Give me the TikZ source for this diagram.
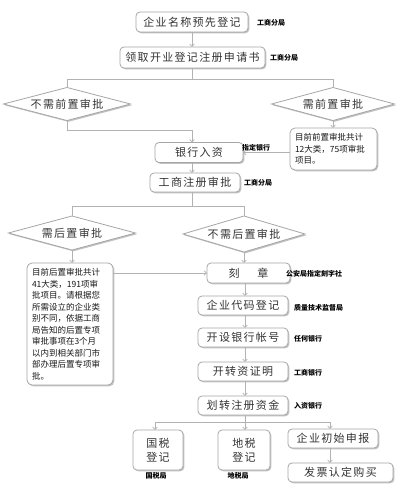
\documentclass[tikz,border=0pt]{standalone}
\usepackage{fontspec}
\newfontfamily\cjk[LetterSpace=12]{Noto Sans CJK SC}
\newfontfamily\cjkn{Noto Sans CJK SC}
\usetikzlibrary{shapes.geometric,shadows,arrows.meta}
\begin{document}
\begin{tikzpicture}[x=1pt,y=-1pt,
  every node/.style={inner sep=0pt,outer sep=0pt},
  shd/.style={drop shadow={shadow xshift=1.3pt,shadow yshift=-1.3pt,fill=gray!80,opacity=0.6}},
  box/.style={draw=gray!70,line width=0.8pt,fill=white,rounded corners=4pt,shd,
    font=\cjk\fontsize{11}{14}\selectfont,text=black!80,align=center},
  dia/.style={diamond,draw=gray!70,line width=0.8pt,fill=white,shd,aspect=3.8,
    font=\cjk\fontsize{11}{13}\selectfont,text=black!80},
  note/.style={draw=gray!70,line width=0.8pt,fill=white,rounded corners=5pt,shd,
    font=\cjkn\fontsize{8.5}{11.5}\selectfont,text=black!90,align=left,inner sep=5pt},
  lab/.style={font=\cjkn\bfseries\fontsize{7}{8}\selectfont,text=black},
  ln/.style={draw=gray!60,line width=0.8pt},
  arr/.style={ln,-{Straight Barb[length=2.5pt,width=4.5pt,line width=0.7pt]}}
]
\useasboundingbox[fill=white] (0,0) rectangle (404,495);

% main column nodes
\node[box,minimum width=112pt,minimum height=20pt] (n1) at (192,22) {企业名称预先登记};
\node[box,minimum width=145pt,minimum height=21pt] (n2) at (192.5,57.5) {领取开业登记注册申请书};
\node[dia,minimum width=127pt,minimum height=33pt] (d1) at (67,104) {不需前置审批};
\node[dia,minimum width=123pt,minimum height=33pt] (d2) at (333,104) {需前置审批};
\node[note,text width=77pt,minimum height=42pt] (b3) at (333.5,149) {目前前置审批共计\\12大类，75项审批\\项目。};
\node[box,minimum width=88pt,minimum height=20pt] (n4) at (199,152.5) {银行入资};
\node[box,minimum width=90pt,minimum height=19pt] (n5) at (195,182.5) {工商注册审批};
\node[dia,minimum width=127pt,minimum height=34pt] (d3) at (72,233) {需后置审批};
\node[dia,minimum width=122pt,minimum height=36pt] (d4) at (244,234) {不需后置审批};
\node[note,text width=76pt,minimum height=122pt] (b6) at (70,324) {目前后置审批共计\\41大类，191项审\\批项目。请根据您\\所需设立的企业类\\别不同，依据工商\\局告知的后置专项\\审批事项在3个月\\以内到相关部门市\\部办理后置专项审\\批。};
\node[box,minimum width=83pt,minimum height=20pt] (n7) at (248.5,273) {刻\hspace{18pt}章};
\node[box,minimum width=90pt,minimum height=19pt] (n8) at (243,305.5) {企业代码登记};
\node[box,minimum width=90pt,minimum height=19pt] (n9) at (243,337.5) {开设银行帐号};
\node[box,minimum width=90pt,minimum height=19pt] (n10) at (243,371.5) {开转资证明};
\node[box,minimum width=90pt,minimum height=19pt] (n11) at (243,405.5) {划转注册资金};
\node[box,minimum width=50pt,minimum height=40pt] (n12) at (158,450) {国税\\登记};
\node[box,minimum width=52pt,minimum height=40pt] (n13) at (244,450) {地税\\登记};
\node[box,minimum width=90pt,minimum height=19pt] (n14) at (333,438.5) {企业初始申报};
\node[box,minimum width=105pt,minimum height=19pt] (n15) at (340.5,472.5) {发票认定购买};

% labels
\node[lab,anchor=west] (l1) at (257,23) {工商分局};
\node[lab,anchor=west] (l2) at (270,58) {工商分局};
\node[lab] (l3) at (256,148) {指定银行};
\node[lab,anchor=west] (l4) at (244,183) {工商分局};
\node[lab,anchor=west] (l5) at (286,274) {公安局指定刻字社};
\node[lab,anchor=west] (l6) at (294,308) {质量技术监督局};
\node[lab,anchor=west] (l7) at (294,339) {任何银行};
\node[lab,anchor=west] (l8) at (294,373) {工商银行};
\node[lab,anchor=west] (l9) at (294,406) {入资银行};
\node[lab] (l10) at (156,476) {国税局};
\node[lab] (l11) at (238,476) {地税局};

% junction coordinates
\coordinate (c1) at (192,0);
\coordinate (j1) at (192,79);
\coordinate (j1l) at (67,79);
\coordinate (j1r) at (333,79);
\coordinate (j2) at (67,130);
\coordinate (j3) at (192,130);
\coordinate (j4) at (192,206);
\coordinate (j4l) at (72,206);
\coordinate (j4r) at (244,206);
\coordinate (c2) at (245,0);
\coordinate (j5) at (245,422);
\coordinate (j5l) at (155,422);
\coordinate (j5r) at (330,422);

% connectors
\draw[arr] (c1 |- n1.south) -- (c1 |- n2.north);
\draw[ln] (c1 |- n2.south) -- (j1);
\draw[ln] (j1l) -- (j1r);
\draw[ln] (j1l) -- (d1.north);
\draw[ln] (j1r) -- (d2.north);
\draw[ln] (d1.south) -- (j2) -- (j3);
\draw[arr] (j3) -- (j3 |- n4.north);
\draw[arr] (d2.south) -- (d2.south |- b3.north);
\draw[arr] (b3.west |- n4.east) -- (n4.east);
\draw[arr] (c1 |- n4.south) -- (c1 |- n5.north);
\draw[ln] (c1 |- n5.south) -- (j4);
\draw[ln] (j4l) -- (j4r);
\draw[ln] (j4l) -- (d3.north);
\draw[ln] (j4r) -- (d4.north);
\draw[arr] (d3.south) -- (d3.south |- b6.north);
\draw[arr] (d4.south) -- (d4.south |- n7.north);
\draw[arr] (b6.east |- n7.west) -- (n7.west);
\draw[arr] (c2 |- n7.south) -- (c2 |- n8.north);
\draw[arr] (c2 |- n8.south) -- (c2 |- n9.north);
\draw[arr] (c2 |- n9.south) -- (c2 |- n10.north);
\draw[arr] (c2 |- n10.south) -- (c2 |- n11.north);
\draw[ln] (c2 |- n11.south) -- (j5);
\draw[ln] (j5l) -- (j5r);
\draw[arr] (j5l) -- (j5l |- n12.north);
\draw[arr] (j5) -- (j5 |- n13.north);
\draw[arr] (j5r) -- (j5r |- n14.north);
\draw[arr] (j5r |- n14.south) -- (j5r |- n15.north);
\end{tikzpicture}
\end{document}
